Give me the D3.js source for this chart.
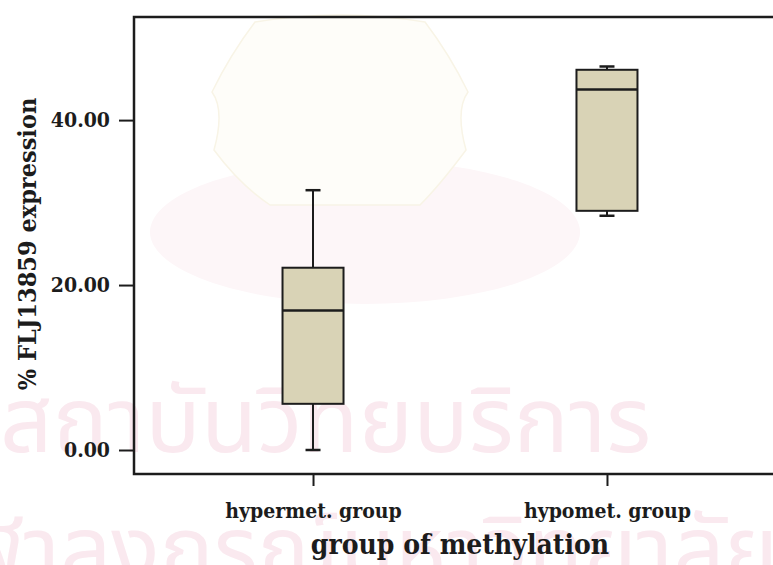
<!DOCTYPE html>
<html>
<head>
<meta charset="utf-8">
<script src="https://cdn.jsdelivr.net/npm/d3@7"></script>
<style>
  html, body { margin: 0; padding: 0; background: #ffffff; }
  svg { display: block; }
</style>
</head>
<body>
<svg id="chart" width="773" height="565"></svg>
<script>
// Box-plot summaries: % FLJ13859 expression by methylation group
const groups = ["hypermet. group", "hypomet. group"];
const whiskerLow = [0.0, 28.4];
const q1 = [5.6, 29.0];
const median = [16.9, 43.7];
const q3 = [22.1, 46.1];
const whiskerHigh = [31.5, 46.5];
const yTicks = [0, 20, 40];
const yTitle = "% FLJ13859 expression";
const xTitle = "group of methylation";
const watermarkLines = ["สถาบันวิทยบริการ", "จุฬาลงกรณ์มหาวิทยาลัย"];

const svg = d3.select("#chart");
const frame = { left: 134, top: 17, right: 790, bottom: 474 };
const ink = "#1c1c1c";
const serif = "'DejaVu Serif Condensed', 'DejaVu Serif', serif";

// faint background watermark (emblem wash + institution name)
const wm = svg.append("g").attr("class", "watermark").attr("pointer-events", "none");
wm.append("ellipse")
  .attr("cx", 365).attr("cy", 232).attr("rx", 215).attr("ry", 72)
  .attr("fill", "#fdf6f8");
wm.append("path")
  .attr("d", "M255,22 Q340,8 425,22 Q450,55 468,92 Q455,110 466,150 Q440,185 420,205 L270,205 Q240,185 214,150 Q225,110 212,92 Q230,55 255,22 Z")
  .attr("fill", "#fefdf9")
  .attr("stroke", "#f8f4e6")
  .attr("stroke-width", 1.5);
wm.append("text")
  .attr("x", 0).attr("y", 452)
  .attr("font-family", "'Noto Sans Thai', 'Noto Sans', sans-serif")
  .attr("font-size", 92)
  .attr("fill", "#fae9ef")
  .text(watermarkLines[0]);
wm.append("text")
  .attr("x", 778).attr("y", 580)
  .attr("text-anchor", "end")
  .attr("font-family", "'Noto Sans Thai', 'Noto Sans', sans-serif")
  .attr("font-size", 90)
  .attr("fill", "#fae9ef")
  .text(watermarkLines[1]);

const y = d3.scaleLinear()
  .domain([-2.91, 52.5])
  .range([frame.bottom, frame.top]);

const x = d3.scalePoint()
  .domain(groups)
  .range([frame.left, 786])
  .padding(0.609);

const boxW = 61;
const capW = 15;

// y axis ticks and labels
const yAxis = d3.axisLeft(y)
  .tickValues(yTicks)
  .tickFormat(d3.format(".2f"))
  .tickSize(15)
  .tickPadding(9);
const gy = svg.append("g")
  .attr("transform", `translate(${frame.left},0)`)
  .call(yAxis);
gy.select(".domain").remove();
gy.selectAll(".tick line").attr("stroke", ink).attr("stroke-width", 2);
gy.selectAll(".tick text")
  .attr("fill", ink)
  .attr("font-family", serif)
  .attr("font-stretch", "condensed")
  .attr("font-weight", "bold")
  .attr("font-size", 21);

// x axis ticks and labels
const xAxis = d3.axisBottom(x)
  .tickSize(12)
  .tickPadding(17);
const gx = svg.append("g")
  .attr("transform", `translate(0,${frame.bottom})`)
  .call(xAxis);
gx.select(".domain").remove();
gx.selectAll(".tick line").attr("stroke", ink).attr("stroke-width", 2);
gx.selectAll(".tick text")
  .attr("fill", ink)
  .attr("font-family", serif)
  .attr("font-stretch", "condensed")
  .attr("font-weight", "bold")
  .attr("font-size", 21);

// plot frame
svg.append("rect")
  .attr("x", frame.left).attr("y", frame.top)
  .attr("width", frame.right - frame.left)
  .attr("height", frame.bottom - frame.top)
  .attr("fill", "none")
  .attr("stroke", ink)
  .attr("stroke-width", 2.5);

// boxes
const data = groups.map((g, i) => ({
  g, lo: whiskerLow[i], q1: q1[i], med: median[i], q3: q3[i], hi: whiskerHigh[i]
}));

const bx = svg.append("g").selectAll("g").data(data).join("g")
  .attr("transform", d => `translate(${x(d.g)},0)`);

bx.append("line")
  .attr("x1", 0).attr("x2", 0)
  .attr("y1", d => y(d.q3)).attr("y2", d => y(d.hi))
  .attr("stroke", ink).attr("stroke-width", 2);
bx.append("line")
  .attr("x1", 0).attr("x2", 0)
  .attr("y1", d => y(d.q1)).attr("y2", d => y(d.lo))
  .attr("stroke", ink).attr("stroke-width", 2);
bx.append("line")
  .attr("x1", -capW / 2).attr("x2", capW / 2)
  .attr("y1", d => y(d.hi)).attr("y2", d => y(d.hi))
  .attr("stroke", ink).attr("stroke-width", 2.5);
bx.append("line")
  .attr("x1", -capW / 2).attr("x2", capW / 2)
  .attr("y1", d => y(d.lo)).attr("y2", d => y(d.lo))
  .attr("stroke", ink).attr("stroke-width", 2.5);
bx.append("rect")
  .attr("x", -boxW / 2).attr("width", boxW)
  .attr("y", d => y(d.q3))
  .attr("height", d => y(d.q1) - y(d.q3))
  .attr("fill", "#d9d3b6")
  .attr("stroke", ink).attr("stroke-width", 2);
bx.append("line")
  .attr("x1", -boxW / 2).attr("x2", boxW / 2)
  .attr("y1", d => y(d.med)).attr("y2", d => y(d.med))
  .attr("stroke", ink).attr("stroke-width", 2.5);

// axis titles
svg.append("text")
  .attr("x", (x(groups[0]) + x(groups[1])) / 2)
  .attr("y", 554)
  .attr("text-anchor", "middle")
  .attr("fill", ink)
  .attr("font-family", serif)
  .attr("font-stretch", "condensed")
  .attr("font-weight", "bold")
  .attr("font-size", 28)
  .text(xTitle);

svg.append("text")
  .attr("transform", `translate(36,${(98 + 390) / 2}) rotate(-90)`)
  .attr("text-anchor", "middle")
  .attr("fill", ink)
  .attr("font-family", serif)
  .attr("font-stretch", "condensed")
  .attr("font-weight", "bold")
  .attr("font-size", 25)
  .text(yTitle);
</script>
</body>
</html>
